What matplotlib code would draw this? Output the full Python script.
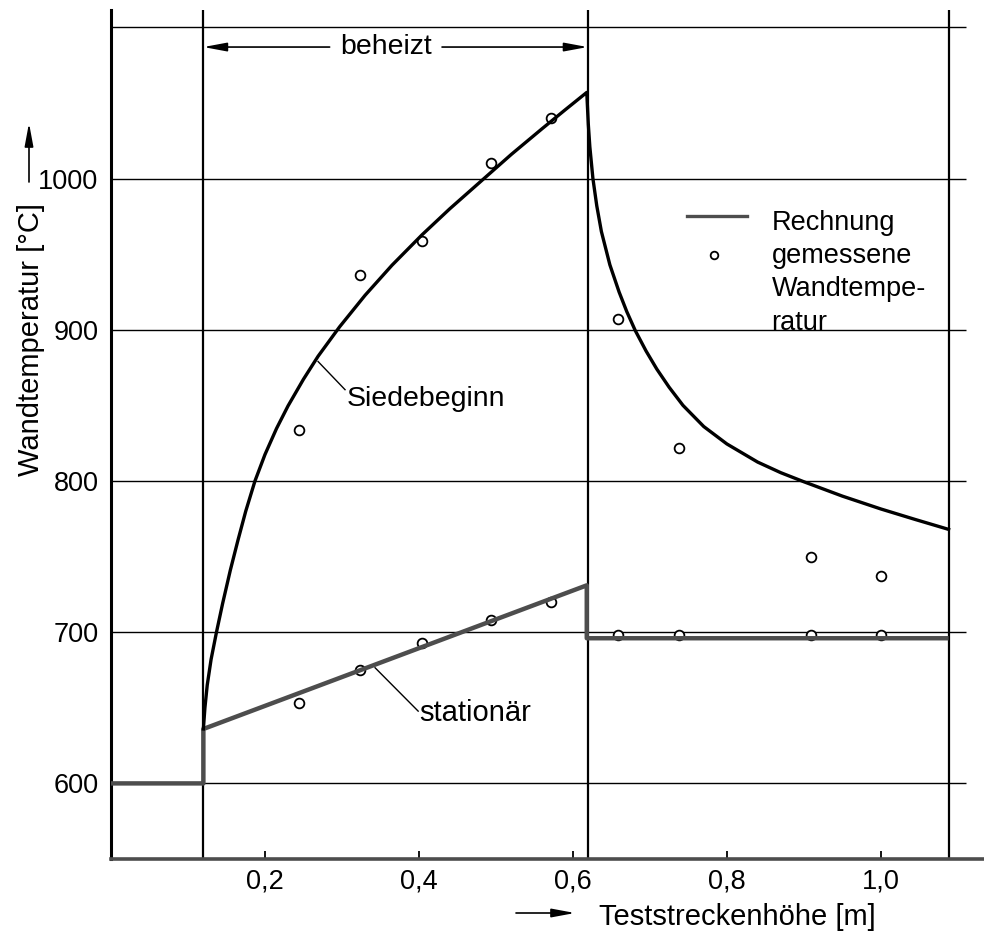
import numpy as np
import matplotlib.pyplot as plt

plt.rcParams['font.family'] = ['Liberation Sans Narrow', 'Liberation Sans', 'DejaVu Sans']

# Abschnittsgrenzen der Teststrecke [m]
x_heiz_anfang = 0.12
x_heiz_ende = 0.619
x_strecke_ende = 1.088

# Rechnung Siedebeginn, beheizter Teil
siede_x = [0.120, 0.122, 0.125, 0.130, 0.137, 0.145, 0.155, 0.165, 0.175, 0.187,
           0.200, 0.215, 0.230, 0.250, 0.269, 0.297, 0.330, 0.365, 0.404, 0.440,
           0.480, 0.520, 0.560, 0.590, 0.618]
siede_T = [636, 650, 665, 682, 700, 719, 741, 761, 780, 800,
           817.5, 834.7, 849.7, 867.3, 882.5, 902, 922.8, 942.7, 962.8, 980,
           998, 1016, 1033, 1045.5, 1057]

# Rechnung Siedebeginn, unbeheizter Teil
abkl_x = [0.618, 0.620, 0.622, 0.626, 0.631, 0.637, 0.648, 0.660, 0.670, 0.681,
          0.695, 0.709, 0.725, 0.743, 0.770, 0.800, 0.840, 0.870, 0.900, 0.950,
          1.000, 1.045, 1.088]
abkl_T = [1057, 1036, 1021, 1000, 982, 965, 943, 925, 912, 899.5,
          886, 874, 862, 850, 836, 824.5, 812.5, 805.5, 799.5, 790,
          781.5, 774.5, 768]

# Rechnung stationaer
stat_x = [0.0, 0.12, 0.12, 0.618, 0.618, 1.088]
stat_T = [600, 600, 636, 731, 696, 696]

# gemessene Wandtemperaturen
mess_x_heiz = [0.244, 0.324, 0.404, 0.493, 0.572]
mess_siede_heiz = [834, 936, 959, 1010, 1040]
mess_stat_heiz = [653, 675, 693, 708, 720]
mess_x_unbeh = [0.659, 0.738, 0.909, 1.0]
mess_siede_unbeh = [907, 822, 750, 737]
mess_stat_unbeh = [698, 698, 698, 698]

x_ticks = [0.2, 0.4, 0.6, 0.8, 1.0]
x_ticklabels = ['0,2', '0,4', '0,6', '0,8', '1,0']
y_ticks = [600, 700, 800, 900, 1000]
y_grid = [600, 700, 800, 900, 1000, 1100]

fig = plt.figure(figsize=(9.84, 9.35), dpi=100)
ax = fig.add_axes([111 / 984, 76 / 935, 873 / 984, 849 / 935])
ax.set_xlim(0, 1.134)
ax.set_ylim(550, 1111.5)

# Gitter und Abschnittslinien
ax.hlines(y_grid, 0, 1.11, colors='k', lw=1.0, zorder=1)
for xv in [x_heiz_anfang, x_heiz_ende, x_strecke_ende]:
    ax.axvline(xv, color='k', lw=1.6, zorder=1)

# Kurven
ax.plot(stat_x, stat_T, color='0.3', lw=3.2, zorder=4, solid_capstyle='butt')
ax.plot(siede_x + abkl_x, siede_T + abkl_T, color='k', lw=2.4, zorder=4)

# Messpunkte
circ = dict(ls='none', marker='o', ms=7, mfc='white', mec='k', mew=1.3, zorder=3)
ax.plot(mess_x_heiz, mess_siede_heiz, **circ)
ax.plot(mess_x_heiz, mess_stat_heiz, **circ)
ax.plot(mess_x_unbeh, mess_siede_unbeh, **circ)
ax.plot(mess_x_unbeh, mess_stat_unbeh, **circ)

# beheizter Bereich
pfeil = dict(arrowstyle='-|>,head_length=0.7,head_width=0.13', color='k', lw=1.2,
             shrinkA=0, shrinkB=0, mutation_scale=20)
ax.annotate('', xy=(x_heiz_anfang, 1087), xytext=(0.284, 1087), arrowprops=pfeil)
ax.annotate('', xy=(x_heiz_ende, 1087), xytext=(0.43, 1087), arrowprops=pfeil)
ax.text(0.357, 1087, 'beheizt', ha='center', va='center', fontsize=20.5)

# Kurvenbeschriftungen
ax.plot([0.269, 0.304], [879, 860.4], color='k', lw=1.0)
ax.text(0.306, 849.4, 'Siedebeginn', ha='left', va='baseline', fontsize=20.5)
ax.plot([0.343, 0.399], [676.5, 647.8], color='k', lw=1.0)
ax.text(0.401, 641.2, 'stationär', ha='left', va='baseline', fontsize=21)

# Legende
ax.plot([0.7476, 0.8255], [975, 975], color='0.3', lw=2.4)
ax.plot([0.7835], [949.6], ls='none', marker='o', ms=5.5, mfc='white', mec='k', mew=1.3)
for yb, txt in zip([966.2, 944.4, 922.1, 900.1],
                   ['Rechnung', 'gemessene', 'Wandtempe-', 'ratur']):
    ax.text(0.858, yb, txt, ha='left', va='baseline', fontsize=19.5)

# Achsen
for s in ['top', 'right']:
    ax.spines[s].set_visible(False)
ax.spines['left'].set_linewidth(2.2)
ax.spines['bottom'].set_linewidth(2.6)
ax.spines['bottom'].set_color('0.3')

ax.set_xticks(x_ticks)
ax.set_xticklabels(x_ticklabels)
ax.set_yticks(y_ticks)
ax.tick_params(axis='x', direction='in', length=6, width=1.3, pad=7, labelsize=19.5)
ax.tick_params(axis='y', length=0, pad=9, labelsize=19.5)

# Achsenbeschriftungen mit Pfeilen
fig.text(737 / 984, 1 - 917 / 935, 'Teststreckenhöhe [m]', ha='center', va='center', fontsize=21)
ax.annotate('', xy=(575, 22), xytext=(516, 22), xycoords='figure pixels',
            textcoords='figure pixels', arrowprops=pfeil)
fig.text(31 / 984, 1 - 339 / 935, 'Wandtemperatur [°C]', rotation=90,
         ha='center', va='center', fontsize=21)
ax.annotate('', xy=(29, 812), xytext=(29, 753), xycoords='figure pixels',
            textcoords='figure pixels', arrowprops=pfeil)

fig.savefig('out.png', dpi=100)
